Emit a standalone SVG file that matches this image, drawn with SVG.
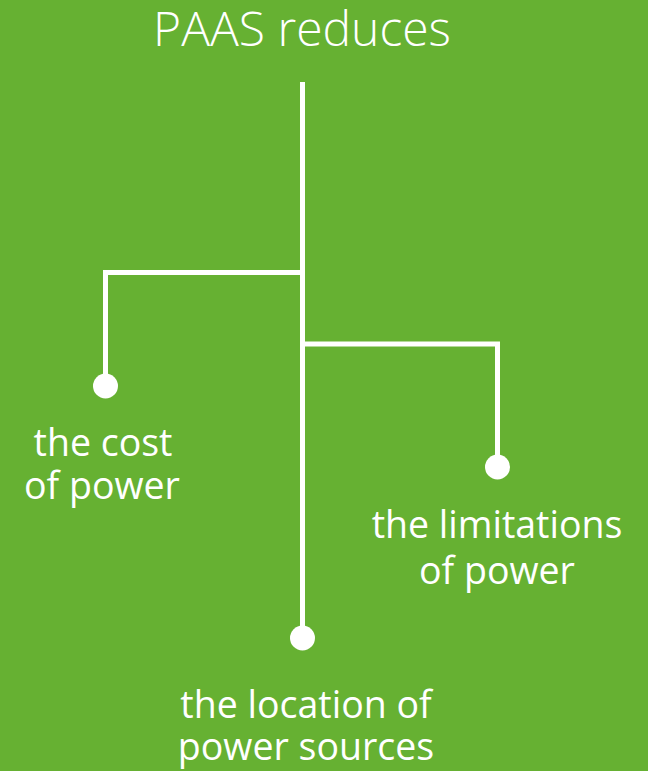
<svg xmlns="http://www.w3.org/2000/svg" width="648" height="771" viewBox="0 0 648 771">
<style>
.bg{fill:#66b132}
.ln{fill:none;stroke:#fff;stroke-width:5}
.dot{fill:#fff}
.t{font-family:"Open Sans","Noto Sans","Liberation Sans",sans-serif;fill:#fff;text-anchor:middle}
.title{font-size:48px;font-weight:300}
.lbl{font-size:37.5px;font-weight:400}
</style>
<rect class="bg" x="0" y="0" width="648" height="771"/>
<g id="title"><text class="t title" x="302" y="46">PAAS reduces</text></g>
<g id="connectors">
<path class="ln" d="M302.5,82 V637"/>
<path class="ln" d="M302.5,272.5 H105.5 V386"/>
<path class="ln" d="M302.5,344 H497.5 V467"/>
</g>
<g id="node-cost">
<circle class="dot" cx="105.5" cy="386" r="12.5"/>
<text class="t lbl" x="103" y="456">the cost</text>
<text class="t lbl" x="102" y="499">of power</text>
</g>
<g id="node-limitations">
<circle class="dot" cx="497.5" cy="467" r="12.5"/>
<text class="t lbl" x="497" y="538">the limitations</text>
<text class="t lbl" x="497" y="584">of power</text>
</g>
<g id="node-location">
<circle class="dot" cx="302.5" cy="638" r="12.5"/>
<text class="t lbl" x="306" y="718">the location of</text>
<text class="t lbl" x="306" y="760">power sources</text>
</g>
</svg>
